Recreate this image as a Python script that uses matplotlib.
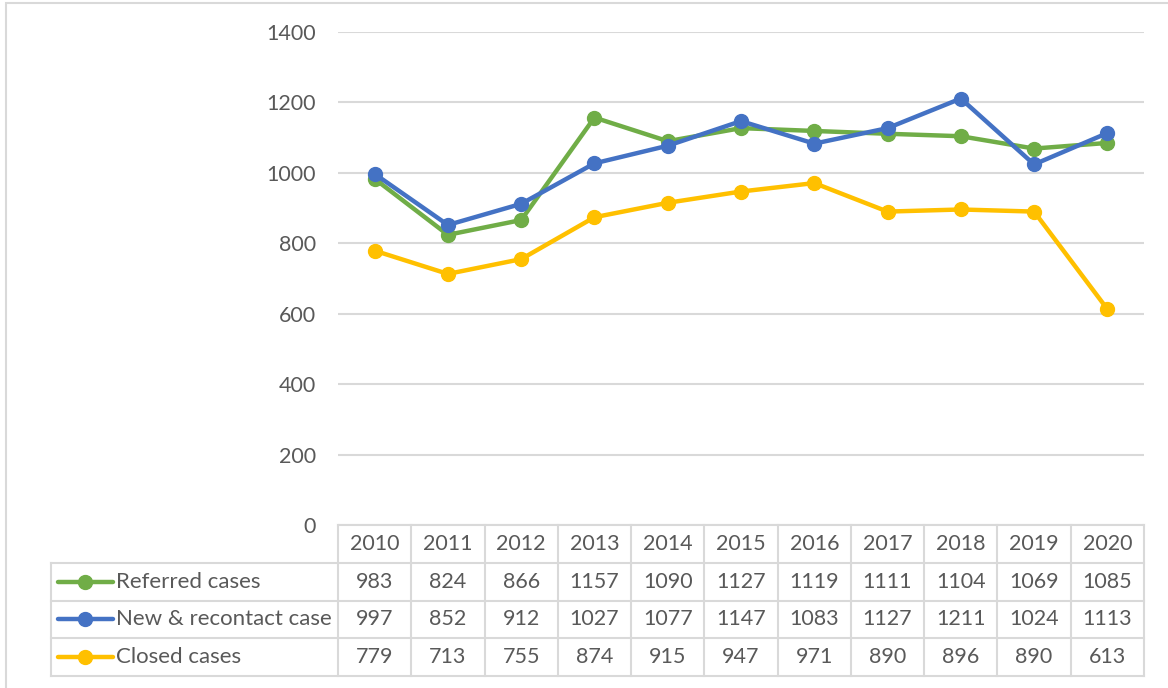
import matplotlib.pyplot as plt
from matplotlib.patches import Rectangle

years = ['2010', '2011', '2012', '2013', '2014', '2015', '2016', '2017', '2018', '2019', '2020']
referred = [983, 824, 866, 1157, 1090, 1127, 1119, 1111, 1104, 1069, 1085]
new_recontact = [997, 852, 912, 1027, 1077, 1147, 1083, 1127, 1211, 1024, 1113]
closed = [779, 713, 755, 874, 915, 947, 971, 890, 896, 890, 613]
names = ['Referred cases', 'New & recontact case', 'Closed cases']
colors = ['#70AD47', '#4472C4', '#FFC000']
yticks = [0, 200, 400, 600, 800, 1000, 1200, 1400]

plt.rcParams['font.family'] = ['Lato', 'DejaVu Sans']
txt = '#595959'
grid = '#D9D9D9'
W, H = 1168, 688

fig = plt.figure(figsize=(W / 100, H / 100), dpi=100)

# outer chart frame
fig.patches.append(Rectangle((6 / W, -0.1), 1.2, 1 - 3.5 / H + 0.1, transform=fig.transFigure,
                             fill=False, edgecolor=grid, linewidth=1.5))

# plot area
left, right, top, bottom = 338, 1144, 32, 525
ax = fig.add_axes([left / W, 1 - bottom / H, (right - left) / W, (bottom - top) / H])
x = list(range(len(years)))
for vals, c in zip([referred, new_recontact, closed], colors):
    ax.plot(x, vals, color=c, linewidth=3.2, marker='o', markersize=10, solid_capstyle='round')
ax.set_xlim(-0.5, len(years) - 0.5)
ax.set_ylim(0, 1400)
ax.set_yticks(yticks)
ax.set_xticks([])
ax.grid(axis='y', color=grid, linewidth=1.5)
ax.set_axisbelow(True)
for s in ax.spines.values():
    s.set_visible(False)
ax.tick_params(axis='y', length=0, pad=16, labelsize=15.5, labelcolor=txt)

# data table
tl, tr, tt, tb = 51, 1142, 525, 676
unit = (right - left) / len(years)
tax = fig.add_axes([tl / W, 1 - tb / H, (tr - tl) / W, (tb - tt) / H])
lab_w = (left - tl) / unit
xl = -0.5 - lab_w
xr = len(years) - 0.5
tax.set_xlim(xl, xr + (tr - right) / unit)
tax.set_ylim(0, 4)
tax.axis('off')
lw = 1.5
tax.plot([-0.5, xr], [4, 4], color=grid, lw=lw, clip_on=False)
for yy in [3, 2, 1, 0]:
    tax.plot([xl, xr], [yy, yy], color=grid, lw=lw, clip_on=False)
tax.plot([xl, xl], [0, 3], color=grid, lw=lw, clip_on=False)
for i in range(len(years) + 1):
    tax.plot([i - 0.5, i - 0.5], [0, 4], color=grid, lw=lw, clip_on=False)

fs_num = 15.5
fs_lab = 16
for i, yr in enumerate(years):
    tax.text(i, 3.5, yr, ha='center', va='center', fontsize=fs_num, color=txt)
for r, (vals, nm, c) in enumerate(zip([referred, new_recontact, closed], names, colors)):
    yc = 2.5 - r
    for i, v in enumerate(vals):
        tax.text(i, yc, str(v), ha='center', va='center', fontsize=fs_num, color=txt)
    tax.plot([xl + 0.09, xl + 0.84], [yc, yc], color=c, lw=3.2, solid_capstyle='round', clip_on=False)
    tax.plot([xl + 0.465], [yc], marker='o', markersize=10, color=c, clip_on=False)
    tax.text(xl + 0.89, yc, nm, ha='left', va='center', fontsize=fs_lab, color=txt)

fig.savefig('out.png', dpi=100)
